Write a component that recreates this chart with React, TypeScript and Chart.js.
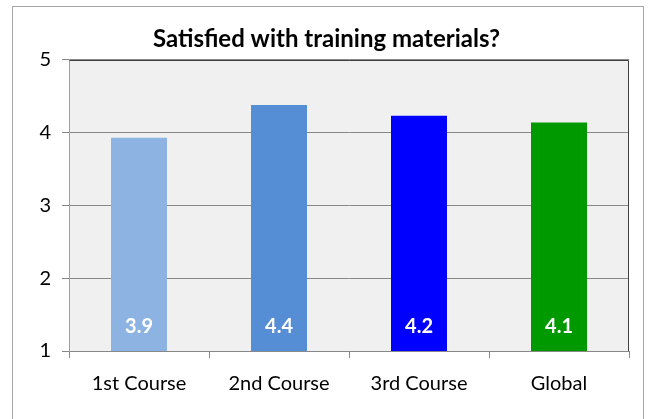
import React, { useEffect, useRef } from "react";
import { Chart, registerables } from "chart.js";

Chart.register(...registerables);

const categories = ["1st Course", "2nd Course", "3rd Course", "Global"];
const values = [3.93, 4.38, 4.23, 4.14];
const valueLabels = ["3.9", "4.4", "4.2", "4.1"];
const barColors = ["#8DB3E2", "#558ED5", "#0000FF", "#009900"];
const yTicks = [1, 2, 3, 4, 5];
const titleText = "Satisfied with training materials?";

const FONT = "Lato, 'Open Sans', sans-serif";

const decorPlugin = {
  id: "decor",
  beforeDraw(chart: any) {
    const { ctx, chartArea } = chart;
    ctx.save();
    ctx.fillStyle = "#ffffff";
    ctx.fillRect(0, 0, chart.width, chart.height);
    ctx.strokeStyle = "#a6a6a6";
    ctx.lineWidth = 1;
    ctx.strokeRect(12.5, 6.5, 631, 430);
    ctx.fillStyle = "#F0F0F0";
    ctx.fillRect(chartArea.left, chartArea.top, chartArea.right - chartArea.left, chartArea.bottom - chartArea.top);
    ctx.restore();
  },
  afterDatasetsDraw(chart: any) {
    const { ctx, chartArea } = chart;
    ctx.save();
    ctx.strokeStyle = "#404040";
    ctx.lineWidth = 1;
    ctx.beginPath();
    ctx.moveTo(Math.round(chartArea.left) + 0.5, Math.round(chartArea.top) + 0.5);
    ctx.lineTo(Math.round(chartArea.right) - 0.5, Math.round(chartArea.top) + 0.5);
    ctx.lineTo(Math.round(chartArea.right) - 0.5, Math.round(chartArea.bottom));
    ctx.stroke();
    const meta = chart.getDatasetMeta(0);
    ctx.fillStyle = "#ffffff";
    ctx.font = "bold 20px " + FONT;
    ctx.textAlign = "center";
    ctx.textBaseline = "middle";
    meta.data.forEach((bar: any, i: number) => {
      ctx.fillText(valueLabels[i], bar.x, chartArea.bottom - 24);
    });
    ctx.restore();
  },
};

export default function App() {
  const ref = useRef<HTMLCanvasElement>(null);
  useEffect(() => {
    document.body.style.margin = "0";
    const chart = new Chart(ref.current!, {
      type: "bar",
      data: {
        labels: categories,
        datasets: [
          {
            data: values,
            backgroundColor: barColors,
            borderWidth: 0,
            barPercentage: 0.4,
            categoryPercentage: 1,
          },
        ],
      },
      options: {
        animation: false,
        responsive: false,
        layout: { padding: { left: 24, right: 29, top: 0, bottom: 0 } },
        plugins: {
          legend: { display: false },
          tooltip: { enabled: false },
          title: {
            display: true,
            text: titleText,
            color: "#000000",
            font: { family: FONT, size: 24, weight: "bold" },
            padding: { top: 25, bottom: 6 },
          },
        },
        scales: {
          x: {
            grid: {
              drawOnChartArea: false,
              drawTicks: true,
              tickLength: 7,
              offset: true,
              color: "#888888",
            },
            border: { color: "#888888" },
            ticks: {
              color: "#000000",
              font: { family: FONT, size: 20 },
              padding: 14,
            },
            afterFit(scale: any) {
              scale.height = 68;
            },
          },
          y: {
            min: 1,
            max: 5,
            afterBuildTicks(scale: any) {
              scale.ticks = yTicks.map((v) => ({ value: v }));
            },
            grid: {
              color: "#888888",
              tickLength: 7,
            },
            border: { color: "#a0a0a0" },
            ticks: {
              color: "#000000",
              font: { family: FONT, size: 20 },
              padding: 11,
            },
            afterFit(scale: any) {
              scale.width = 45;
            },
          },
        },
      },
      plugins: [decorPlugin],
    });
    return () => chart.destroy();
  }, []);
  return <canvas ref={ref} width={658} height={419} style={{ display: "block" }} />;
}
